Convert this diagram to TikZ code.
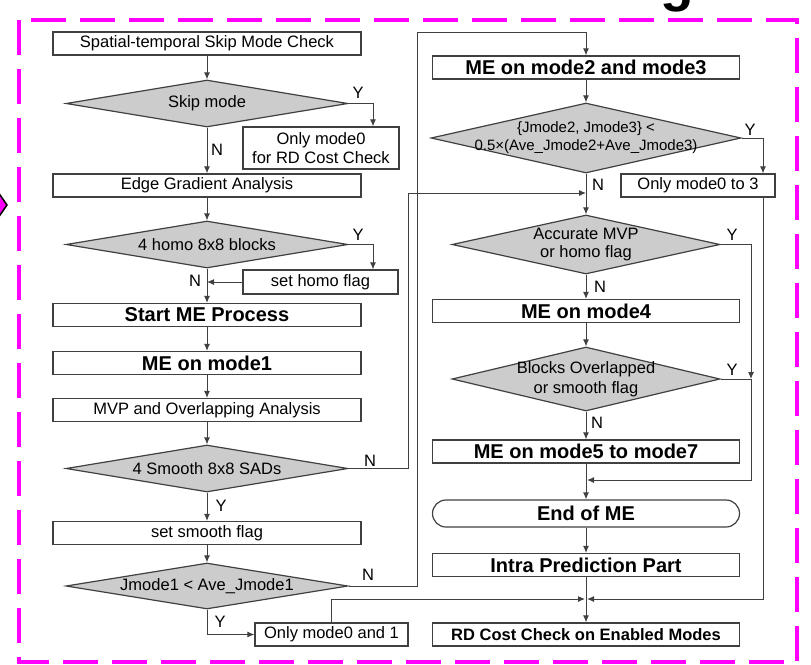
\documentclass[tikz,border=0pt]{standalone}
\usepackage{fontspec}
\setmainfont{Liberation Sans}
\usetikzlibrary{shapes.geometric, arrows.meta}
\definecolor{stroke}{RGB}{64, 64, 64}
\definecolor{shade}{RGB}{204, 204, 204}
\definecolor{frame}{RGB}{255, 0, 255}

\begin{document}
\begin{tikzpicture}[x=1pt, y=-1pt,
  every node/.style={font=\fontsize{16.5}{19}\selectfont, text=black},
  box/.style={draw=stroke, fill=white, line width=1.2pt, minimum height=23pt, inner sep=0pt},
  leftbox/.style={box, minimum width=308pt},
  rightbox/.style={box, minimum width=307pt},
  heavy/.style={font=\fontsize{20}{22}\selectfont\bfseries},
  test/.style={diamond, draw=stroke, fill=shade, line width=1.2pt, inner sep=0pt},
  flow/.style={draw=stroke, line width=1pt, -{Latex[length=7pt, width=6pt]}},
  link/.style={draw=stroke, line width=1pt},
  tag/.style={inner sep=0pt}]

\useasboundingbox (0, 0) rectangle (811, 664);

% cut-off pieces of the page around the figure
\filldraw[fill=frame, draw=black, line width=1.5pt] (-20, 166) -- (7, 205) -- (-20, 244) -- cycle;
\node[font=\fontsize{55}{55}\selectfont\bfseries, anchor=base] (gl) at (677.5, 0) {g};

% dashed frame
\draw[frame, line width=4pt, dash pattern=on 35pt off 14pt] (19, 20) rectangle (797, 662);

% left column
\node[leftbox] (st) at (207, 43.5) {Spatial-temporal Skip Mode Check};
\node[test, minimum width=282pt, minimum height=47pt, label={center:Skip mode}] (skip) at (207, 103.5) {};
\node[box, minimum width=156pt, minimum height=42pt, align=center] (only0) at (321, 148) {Only mode0\\for RD Cost Check};
\node[leftbox] (grad) at (207, 185.5) {Edge Gradient Analysis};
\node[test, minimum width=282pt, minimum height=47pt, label={center:4 homo 8x8 blocks}] (homo) at (207, 244.5) {};
\node[box, minimum width=155pt, minimum height=24pt] (sethomo) at (320.5, 282) {set homo flag};
\node[leftbox, heavy] (start) at (207, 315) {Start ME Process};
\node[leftbox, heavy] (me1) at (207, 363) {ME on mode1};
\node[leftbox] (mvp) at (207, 410) {MVP and Overlapping Analysis};
\node[test, minimum width=282pt, minimum height=47pt, label={center:4 Smooth 8x8 SADs}] (smooth) at (207, 468.5) {};
\node[leftbox] (setsm) at (207, 533) {set smooth flag};
\node[test, minimum width=282pt, minimum height=46pt, label={center:Jmode1 < Ave\_Jmode1}] (j1) at (207, 586) {};
\node[box, minimum width=153pt] (only01) at (331.5, 634.5) {Only mode0 and 1};

% right column
\node[rightbox, heavy] (me23) at (586, 67.5) {ME on mode2 and mode3};
\node[test, minimum width=310pt, minimum height=70pt,
  label={[align=center, font=\fontsize{15}{18}\selectfont]center:{\{Jmode2, Jmode3\} <\\0.5×(Ave\_Jmode2+Ave\_Jmode3)}}] (j23) at (586, 138) {};
\node[box, minimum width=154pt] (only03) at (698, 185.5) {Only mode0 to 3};
\node[test, minimum width=268pt, minimum height=59pt, label={[align=center, font=\fontsize{16.5}{18}\selectfont]center:{Accurate MVP\\or homo flag}}] (acc) at (586, 244.5) {};
\node[rightbox, heavy] (me4) at (586, 311) {ME on mode4};
\node[test, minimum width=268pt, minimum height=64pt, label={[align=center, font=\fontsize{16.5}{20}\selectfont]center:{Blocks Overlapped\\or smooth flag}}] (blk) at (586, 379) {};
\node[rightbox, heavy] (me57) at (586, 451.5) {ME on mode5 to mode7};
\node[rightbox, heavy, rounded corners=13.5pt, minimum height=27pt] (endme) at (586, 513.5) {End of ME};
\node[rightbox, heavy] (intra) at (586, 565) {Intra Prediction Part};
\node[rightbox, font=\fontsize{16.5}{19}\selectfont\bfseries] (rd) at (586, 634.5) {RD Cost Check on Enabled Modes};

% bend points
\coordinate (smN) at (408, 193);
\coordinate (j1N) at (417, 32);
\coordinate (jn) at (751, 379);
\coordinate (mrg) at (586, 480);
\coordinate (rdin) at (586, 599);

% left column arrows
\draw[flow] (st) -- (skip);
\draw[flow] (skip.east) -| ([xshift=52pt]only0.north);
\draw[flow] (skip) -- (grad);
\draw[flow] (grad) -- (homo);
\draw[flow] (homo.east) -| ([xshift=52.5pt]sethomo.north);
\draw[flow] (homo) -- (start);
\draw[flow] (sethomo.west) -- (sethomo.west -| homo.south);
\draw[flow] (start) -- (me1);
\draw[flow] (me1) -- (mvp);
\draw[flow] (mvp) -- (smooth);
\draw[flow] (smooth) -- (setsm);
\draw[flow] (smooth.east) -| (smN) -- (smN -| acc.north);
\draw[flow] (setsm) -- (j1);
\draw[flow] (j1.east) -| (j1N) -| (me23.north);
\draw[flow] (j1.south) |- (only01.west);
\draw[flow] (only01.north) |- ([xshift=-1pt]rdin);

% right column arrows
\draw[flow] (me23) -- (j23);
\draw[flow] (j23.east) -| ([xshift=65pt]only03.north);
\draw[flow] (j23) -- (acc);
\draw[flow] ([xshift=65pt]only03.south) |- ([xshift=1pt]rdin);
\draw[flow] (acc.east) -| (jn);
\draw[flow] (acc) -- (me4);
\draw[flow] (me4) -- (blk);
\draw[flow] (blk.east) -- (jn) |- ([xshift=1pt]mrg);
\draw[flow] (blk) -- (me57);
\draw[flow] (me57) -- (endme);
\draw[flow] (endme) -- (intra);
\draw[flow] (intra) -- (rd);

% branch tags
\node[tag] (yskip) at (358, 93) {Y};
\node[tag] (nskip) at (217, 150) {N};
\node[tag] (yhomo) at (358, 235) {Y};
\node[tag] (nhomo) at (195, 281) {N};
\node[tag] (nsmooth) at (370, 461) {N};
\node[tag] (ysmooth) at (221, 506) {Y};
\node[tag] (nj1) at (368, 575) {N};
\node[tag] (yj1) at (220, 622) {Y};
\node[tag] (yj23) at (750, 130) {Y};
\node[tag] (nj23) at (598, 185) {N};
\node[tag] (yacc) at (732, 235) {Y};
\node[tag] (nacc) at (600, 287) {N};
\node[tag] (yblk) at (732, 370) {Y};
\node[tag] (nblk) at (597, 423) {N};

\end{tikzpicture}
\end{document}
